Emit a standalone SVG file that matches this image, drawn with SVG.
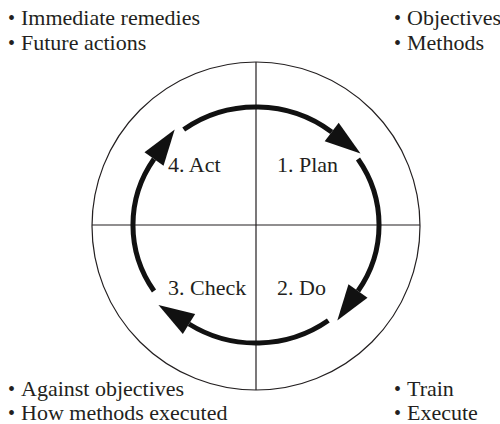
<svg xmlns="http://www.w3.org/2000/svg" width="500" height="424" viewBox="0 0 500 424">
  <style>
    .t { font-family: "Liberation Serif", "Times New Roman", serif; font-size: 22px; fill: #231f20; }
    .b { font-size: 20px; }
    .thin { fill: none; stroke: #231f20; stroke-width: 1.2; }
    .arc { fill: none; stroke: #111; stroke-width: 5; }
  </style>
  <defs>
    <marker id="ah" markerUnits="userSpaceOnUse" markerWidth="36" markerHeight="24" viewBox="0 0 34 22" refX="0" refY="11" orient="auto" overflow="visible">
      <path d="M0,0 L34,11 L0,22 Z" fill="#111"/>
    </marker>
  </defs>
  <rect width="500" height="424" fill="#fff"/>

  <g id="frame">
    <circle class="thin" cx="256" cy="226" r="164"/>
    <line class="thin" x1="256" y1="62" x2="256" y2="390"/>
    <line class="thin" x1="92" y1="225" x2="420" y2="225"/>
  </g>

  <g id="connectors">
    <path class="arc" marker-end="url(#ah)" d="M183.7,129.5 A123,118 0 0 1 331.7,132"/>
    <path class="arc" marker-end="url(#ah)" d="M358,159 A123,118 0 0 1 358,291"/>
    <path class="arc" marker-end="url(#ah)" d="M328.3,320.5 A123,118 0 0 1 189,324"/>
    <path class="arc" marker-end="url(#ah)" d="M154,291 A123,118 0 0 1 154,159"/>
  </g>

  <g id="plan"><text class="t" x="277" y="172">1. Plan</text></g>
  <g id="do"><text class="t" x="277" y="295">2. Do</text></g>
  <g id="check"><text class="t" x="168" y="295">3. Check</text></g>
  <g id="act"><text class="t" x="168" y="172">4. Act</text></g>

  <g id="act-notes">
    <text class="t" x="8" y="25"><tspan class="b">•</tspan><tspan x="21">Immediate remedies</tspan></text>
    <text class="t" x="8" y="50"><tspan class="b">•</tspan><tspan x="21">Future actions</tspan></text>
  </g>
  <g id="plan-notes">
    <text class="t" x="394" y="25"><tspan class="b">•</tspan><tspan x="407">Objectives</tspan></text>
    <text class="t" x="394" y="50"><tspan class="b">•</tspan><tspan x="407">Methods</tspan></text>
  </g>
  <g id="check-notes">
    <text class="t" x="8" y="396"><tspan class="b">•</tspan><tspan x="21">Against objectives</tspan></text>
    <text class="t" x="8" y="420"><tspan class="b">•</tspan><tspan x="21">How methods executed</tspan></text>
  </g>
  <g id="do-notes">
    <text class="t" x="394" y="396"><tspan class="b">•</tspan><tspan x="407">Train</tspan></text>
    <text class="t" x="394" y="420"><tspan class="b">•</tspan><tspan x="407">Execute</tspan></text>
  </g>
</svg>
